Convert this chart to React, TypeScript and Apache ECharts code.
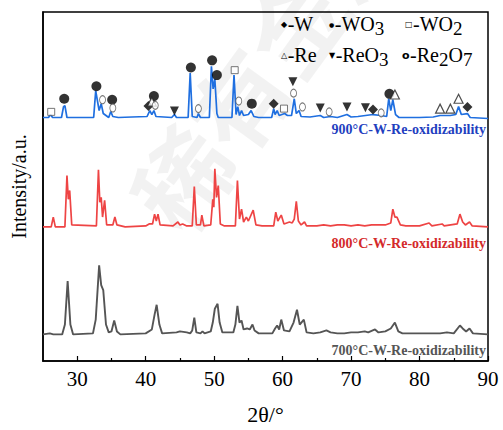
import React, { useEffect, useRef } from "react";
import * as echarts from "echarts";

// 2θ tick labels
const X_MAJOR = [30, 40, 50, 60, 70, 80, 90];
const X_MINOR = [35, 45, 55, 65, 75, 85];

// vertical offsets of each pattern (arbitrary intensity units)
const BASE_900 = 246;
const BASE_800 = 136;
const BASE_700 = 27;

// [2θ, intensity above baseline]
const PATTERN_900: number[][] = [
  [25, 1], [25.8, 1], [26.1, 4], [26.4, 1], [27.7, 1], [28.0, 12], [28.2, 13], [28.5, 1],
  [32.4, 1], [32.7, 28], [32.9, 20], [33.2, 8], [33.5, 15], [33.8, 5], [34.6, 1], [34.9, 7],
  [35.2, 2], [36, 1], [38, 1.5], [40.2, 2], [40.6, 8], [40.9, 4], [41.2, 8], [41.5, 2],
  [43.8, 1], [44.2, 4], [44.5, 1], [46.2, 1], [46.5, 46], [46.8, 2], [47.5, 1], [47.7, 5],
  [48.0, 1], [49.3, 1], [49.6, 53], [49.85, 30], [50.1, 40], [50.4, 5], [50.6, 1], [52.6, 1],
  [52.9, 44], [53.2, 4], [53.45, 12], [53.7, 3], [54.0, 8], [54.3, 3], [55.0, 4], [55.4, 8],
  [55.8, 2], [56.5, 1], [58.4, 1], [58.7, 10], [58.9, 4], [59.2, 8], [59.5, 3], [60.3, 5],
  [60.7, 3], [61.3, 3], [61.7, 20], [62.0, 5], [62.4, 8], [62.7, 2], [64, 1.5], [65.5, 3],
  [66, 1], [67, 2], [68, 1], [69.4, 4], [70, 1.5], [71, 2], [72.1, 3], [73.2, 4], [74.4, 3],
  [75.2, 2], [75.5, 20], [75.8, 8], [76.1, 19], [76.5, 4], [77, 1], [80, 1], [82, 1.5],
  [83, 3], [84.5, 3], [85.3, 4], [85.7, 12], [86.1, 4], [87.0, 5], [87.4, 1], [90, 0],
];

const PATTERN_800: number[][] = [
  [25, 0], [26.2, 0], [26.5, 10], [26.8, 0], [28.2, 0], [28.5, 52], [28.7, 28], [28.9, 37],
  [29.2, 2], [32.8, 1], [33.1, 58], [33.3, 25], [33.5, 30], [33.7, 10], [34.0, 27], [34.3, 2],
  [35.2, 2], [35.5, 10], [35.8, 2], [37, 0], [40, 1], [40.5, 3], [41.0, 3], [41.3, 13],
  [41.55, 6], [41.8, 13], [42.1, 2], [44, 1], [44.7, 5], [45.0, 2], [45.4, 3], [46, 1],
  [46.8, 1], [47.1, 41], [47.4, 2], [48.0, 2], [48.2, 12], [48.5, 1], [49.5, 2], [49.8, 28],
  [49.95, 20], [50.1, 59], [50.35, 30], [50.6, 42], [50.9, 3], [51.5, 1], [53.1, 1],
  [53.4, 47], [53.7, 8], [54.0, 18], [54.3, 5], [54.7, 10], [55.0, 6], [55.7, 17], [56.1, 2],
  [57, 1], [58.7, 1], [59.0, 15], [59.3, 6], [59.8, 12], [60.2, 3], [61.0, 5], [61.4, 4],
  [61.7, 8], [62.0, 26], [62.3, 6], [62.7, 2], [63.2, 5], [63.5, 1], [65, 1], [66, 2], [67, 1],
  [68, 2], [69, 2], [70, 1], [71, 2], [72, 1], [73, 2], [75, 2], [75.8, 4], [76.1, 18],
  [76.4, 10], [76.7, 10], [77.2, 2], [78, 1], [80, 1], [81.4, 4], [81.8, 1], [83.3, 3],
  [83.6, 1], [85.5, 3], [85.9, 13], [86.3, 5], [86.7, 2], [87.3, 5], [87.7, 1], [90, 0],
];

const PATTERN_700: number[][] = [
  [25, 0], [26, 1], [26.5, 0], [27.8, 0], [28.2, 10], [28.6, 54], [29.0, 10], [29.4, 0],
  [32.3, 1], [32.7, 15], [33.2, 70], [33.5, 50], [33.8, 45], [34.2, 10], [34.6, 2], [35.0, 3],
  [35.4, 14], [35.8, 3], [36.3, 0], [40, 1], [40.9, 5], [41.3, 20], [41.6, 30], [42.0, 10],
  [42.4, 1], [44.5, 2], [45, 3], [46, 2], [46.5, 1], [46.8, 4], [47.1, 17], [47.4, 2],
  [48.0, 1], [48.3, 3], [48.6, 1], [49.5, 3], [49.8, 12], [50.1, 26], [50.5, 31], [50.8, 12],
  [51.2, 2], [52.8, 2], [53.1, 10], [53.4, 29], [53.7, 12], [54.0, 14], [54.3, 5], [54.8, 6],
  [55.2, 5], [55.6, 10], [55.9, 4], [56.5, 1], [58.5, 1], [58.9, 6], [59.2, 9], [59.5, 5],
  [59.8, 15], [60.2, 4], [61.0, 3], [61.6, 12], [62.1, 25], [62.5, 10], [63.1, 15], [63.5, 2],
  [64.5, 1], [65.5, 2], [66.4, 4], [67, 2], [68, 1], [69, 1], [70, 2], [71, 2], [72, 3],
  [72.5, 2], [73.5, 5], [74, 2], [75, 3], [75.8, 6], [76.4, 12], [76.9, 3], [77.5, 1],
  [80, 1], [83, 1], [84, 2], [85, 1], [85.9, 9], [86.3, 6], [86.8, 3], [87.3, 6], [87.8, 1],
  [90, 0],
];

// phase markers on the 900 °C pattern: [2θ, height]
const MARK_W: number[][] = [[40.4, 258.7], [58.7, 261], [73.2, 255], [87.0, 257.7]];
const MARK_WO3: number[][] = [
  [28.1, 266], [32.8, 278.7], [35.1, 265], [41.2, 268.7], [46.6, 297.7], [49.7, 305],
  [50.4, 290], [55.5, 261], [75.6, 271],
];
const MARK_WO2: number[][] = [[26.2, 252.7], [53.0, 295], [60.2, 256]];
const MARK_RE: number[][] = [[40.9, 263], [76.4, 270.3], [83.0, 256], [84.5, 256], [85.7, 266]];
const MARK_REO3: number[][] = [[44.2, 253.7], [61.5, 283.3], [65.5, 256.7], [69.4, 257.7], [72.1, 257]];
const MARK_RE2O7: number[][] = [
  [33.7, 265], [35.2, 256.7], [41.4, 259.3], [47.7, 256], [53.6, 263.7], [61.6, 271.7],
  [62.9, 257.7], [66.8, 252.7], [74.4, 251.7],
];

// legend: symbol, then [text, isSubscript] parts
const LEGEND_ROW1 = [
  { sym: "◆", parts: [["-W", false]] },
  { sym: "●", parts: [["-WO", false], ["3", true]] },
  { sym: "□", parts: [["-WO", false], ["2", true]] },
];
const LEGEND_ROW2 = [
  { sym: "△", parts: [["-Re", false]] },
  { sym: "▼", parts: [["-ReO", false], ["3", true]] },
  { sym: "o", parts: [["-Re", false], ["2", true], ["O", false], ["7", true]] },
];

const LABEL_900 = "900°C-W-Re-oxidizability";
const LABEL_800 = "800°C-W-Re-oxidizability";
const LABEL_700 = "700°C-W-Re-oxidizability";

const SERIF = "'Liberation Serif', 'Times New Roman', serif";

export default function App() {
  const ref = useRef<HTMLDivElement>(null);

  useEffect(() => {
    if (!ref.current) return;
    document.body.style.margin = "0";
    const chart = echarts.init(ref.current, null, { renderer: "svg" });

    const ctx = document.createElement("canvas").getContext("2d") as CanvasRenderingContext2D;
    const measure = (font: string, s: string) => {
      ctx.font = font;
      return ctx.measureText(s).width;
    };

    const shift = (arr: number[][], b: number) => arr.map(([x, y]) => [x, y + b]);
    const line = (name: string, data: number[][], color: string, width: number) => ({
      name,
      type: "line",
      data,
      showSymbol: false,
      symbol: "none",
      lineStyle: { color, width },
      z: 3,
    });
    const marks = (name: string, data: number[][], symbol: string, size: any, style: any, rotate = 0) => ({
      name,
      type: "scatter",
      data,
      symbol,
      symbolSize: size,
      symbolRotate: rotate,
      itemStyle: style,
      z: 5,
    });

    const TEXT_FONT = `20px ${SERIF}`;
    const SUB_FONT = `19px ${SERIF}`;
    const symFont = (s: string) =>
      s === "o" ? `bold 11px 'DejaVu Sans'` : s === "●" ? `6px 'DejaVu Sans'` : `8px 'DejaVu Sans'`;
    const legendEls: any[] = [];
    const buildRow = (items: any[], xs: number[], y: number) => {
      items.forEach((it, i) => {
        let cx = xs[i];
        const sf = symFont(it.sym);
        legendEls.push({
          type: "text", x: cx, y, z: 10,
          style: { text: it.sym, font: sf, fill: "#000", textAlign: "left", textVerticalAlign: "middle" },
        });
        cx += measure(sf, it.sym) + 0.5;
        it.parts.forEach(([t, sub]: [string, boolean]) => {
          const f = sub ? SUB_FONT : TEXT_FONT;
          legendEls.push({
            type: "text", x: cx, y: y + (sub ? 4 : 0), z: 10,
            style: { text: t, font: f, fill: "#000", textAlign: "left", textVerticalAlign: "middle" },
          });
          cx += measure(f, t);
        });
      });
    };
    buildRow(LEGEND_ROW1, [281, 329, 405], 24);
    buildRow(LEGEND_ROW2, [281, 329, 402], 55);

    const seriesLabel = (y: number, text: string, color: string) => ({
      type: "text",
      x: 486,
      y,
      z: 10,
      style: {
        text,
        fill: color,
        font: `bold 14px ${SERIF}`,
        textAlign: "right",
        textVerticalAlign: "middle",
      },
    });

    chart.setOption({
      animation: false,
      backgroundColor: "#fff",
      grid: {
        left: 43,
        right: 15,
        top: 12,
        bottom: 64,
        show: true,
        borderColor: "#000",
        borderWidth: 1.5,
        backgroundColor: "transparent",
      },
      xAxis: [
        {
          type: "value",
          min: 25,
          max: 90,
          name: "2θ/°",
          nameLocation: "middle",
          nameGap: 42,
          nameTextStyle: { fontFamily: SERIF, fontSize: 22, color: "#000" },
          axisLine: { show: true, lineStyle: { color: "#000", width: 1.5 } },
          axisTick: { show: true, inside: true, length: 5, customValues: X_MAJOR, lineStyle: { color: "#000", width: 1.2 } },
          axisLabel: { customValues: X_MAJOR, fontFamily: SERIF, fontSize: 21, color: "#000", margin: 7 },
          splitLine: { show: false },
        },
        {
          type: "value",
          min: 25,
          max: 90,
          position: "bottom",
          axisLine: { show: false },
          axisTick: { show: true, inside: true, length: 3, customValues: X_MINOR, lineStyle: { color: "#000", width: 1.2 } },
          axisLabel: { show: false },
          splitLine: { show: false },
        },
      ],
      yAxis: {
        type: "value",
        min: 0,
        max: 354,
        name: "Intensity/a.u.",
        nameLocation: "middle",
        nameGap: 14,
        nameTextStyle: { fontFamily: SERIF, fontSize: 20, color: "#000" },
        axisLine: { show: true, lineStyle: { color: "#000", width: 1.5 } },
        axisTick: { show: false },
        axisLabel: { show: false },
        splitLine: { show: false },
      },
      series: [
        line("900", shift(PATTERN_900, BASE_900), "#1f6fe0", 1.7),
        line("800", shift(PATTERN_800, BASE_800), "#ee4444", 1.7),
        line("700", shift(PATTERN_700, BASE_700), "#555555", 1.9),
        marks("W", MARK_W, "diamond", 10, { color: "#000" }),
        marks("WO3", MARK_WO3, "circle", 10, { color: "#000" }),
        marks("WO2", MARK_WO2, "rect", 7, { color: "#fff", borderColor: "#555", borderWidth: 1 }),
        marks("Re", MARK_RE, "triangle", 9, { color: "#fff", borderColor: "#222", borderWidth: 1.2 }),
        marks("ReO3", MARK_REO3, "triangle", 9, { color: "#000" }, 180),
        marks("Re2O7", MARK_RE2O7, "circle", [6, 8], { color: "#fff", borderColor: "#555", borderWidth: 1 }),
      ],
      graphic: [
        {
          type: "text",
          x: 265,
          y: 60,
          z: 0,
          rotation: (54 * Math.PI) / 180,
          style: {
            text: "稀有金属",
            fill: "rgba(0,0,0,0.05)",
            font: "bold 96px 'Noto Sans CJK SC'",
            textAlign: "center",
            textVerticalAlign: "middle",
          },
        },
        ...legendEls,
        seriesLabel(129, LABEL_900, "#1f3fbf"),
        seriesLabel(243, LABEL_800, "#d42a2a"),
        seriesLabel(350, LABEL_700, "#555555"),
      ],
    });

    return () => chart.dispose();
  }, []);

  return <div ref={ref} style={{ width: 503, height: 430 }} />;
}
